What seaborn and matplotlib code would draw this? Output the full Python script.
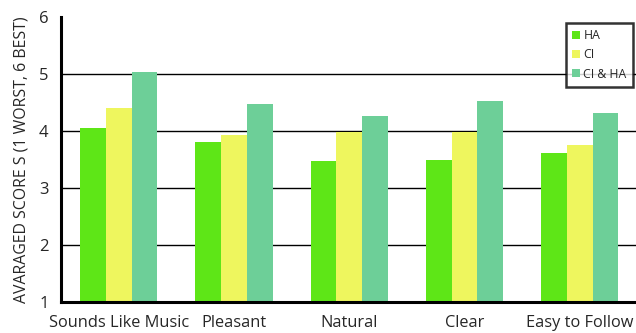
import matplotlib
matplotlib.use("Agg")
import matplotlib.pyplot as plt
import seaborn as sns
import pandas as pd

categories = ["Sounds Like Music", "Pleasant", "Natural", "Clear", "Easy to Follow"]
groups = ["HA", "CI", "CI & HA"]
ha_scores = [4.05, 3.80, 3.47, 3.49, 3.62]
ci_scores = [4.41, 3.93, 3.98, 3.98, 3.76]
ciha_scores = [5.04, 4.47, 4.26, 4.53, 4.32]
y_ticks = [1, 2, 3, 4, 5, 6]

colors = {"HA": "#5ee617", "CI": "#eef65e", "CI & HA": "#6dcf98"}

rows = []
for name, vals in zip(groups, [ha_scores, ci_scores, ciha_scores]):
    for cat, v in zip(categories, vals):
        rows.append({"Category": cat, "Group": name, "Score": v})
df = pd.DataFrame(rows)

sns.set_style("white")
plt.rcParams["font.family"] = ["Open Sans", "DejaVu Sans"]

fig = plt.figure(figsize=(6.36, 3.33), dpi=100)
ax = fig.add_axes([0.096, 0.093, 0.906, 0.856])

# Horizontal reference lines behind the bars
for y in [2, 3, 4, 5]:
    ax.axhline(y, color="black", lw=1.0, zorder=0)

sns.barplot(data=df, x="Category", y="Score", hue="Group", order=categories,
            hue_order=groups, palette=colors, width=0.67, saturation=1,
            ax=ax, zorder=2, legend=True)

for bar in ax.patches:
    bar.set_edgecolor("none")

ax.set_ylim(1, 6)
ax.set_xlim(-0.5, 4.5)
ax.set_yticks(y_ticks)
ax.set_yticklabels([str(t) for t in y_ticks], fontsize=12)
ax.tick_params(axis="y", length=0, pad=9)
ax.tick_params(axis="x", length=0, pad=9, labelsize=11.8)
ax.set_xlabel("")
ax.set_ylabel("AVARAGED SCORE S (1 WORST, 6 BEST)", fontsize=11.4, labelpad=7)

for side in ["top", "right"]:
    ax.spines[side].set_visible(False)
for side in ["left", "bottom"]:
    ax.spines[side].set_color("black")
    ax.spines[side].set_linewidth(2.2)
    ax.spines[side].set_zorder(3)

leg = ax.legend(loc="upper right", bbox_to_anchor=(0.996, 0.932),
                bbox_transform=fig.transFigure, fontsize=8.8, frameon=True,
                fancybox=False, handlelength=0.6, handleheight=0.6,
                handletextpad=0.3, borderpad=0.55, labelspacing=0.5,
                borderaxespad=0)
leg.get_frame().set_edgecolor("black")
leg.get_frame().set_linewidth(1.8)
leg.get_frame().set_facecolor("white")
leg.set_zorder(5)

fig.savefig("out.png", dpi=100)
